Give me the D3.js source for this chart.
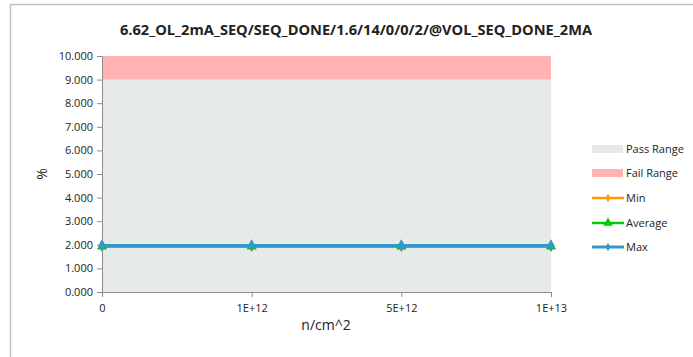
<!DOCTYPE html>
<html>
<head>
<meta charset="utf-8">
<script src="https://cdn.jsdelivr.net/npm/d3@7"></script>
<style>
  body { margin: 0; background: #fff; }
  text { font-family: "Open Sans", "Liberation Sans", sans-serif; fill: #222; }
</style>
</head>
<body>
<svg id="chart" width="693" height="357"></svg>
<script>
const title = "6.62_OL_2mA_SEQ/SEQ_DONE/1.6/14/0/0/2/@VOL_SEQ_DONE_2MA";
const categories = ["0", "1E+12", "5E+12", "1E+13"];
const minValues = [1.95, 1.95, 1.95, 1.95];
const avgValues = [1.93, 1.93, 1.93, 1.93];
const maxValues = [1.97, 1.97, 1.97, 1.97];
const passRange = [0, 9];
const failRange = [9, 10];
const yTicks = [0, 1, 2, 3, 4, 5, 6, 7, 8, 9, 10];

const svg = d3.select("#chart");
const margin = { top: 56, right: 142, bottom: 65, left: 102 };
const width = +svg.attr("width");
const height = +svg.attr("height");

// outer frame
svg.append("path")
  .attr("d", `M10.5,357 L10.5,4.5 L693,4.5`)
  .attr("fill", "none")
  .attr("stroke", "#c0c0c0")
  .attr("stroke-width", 1.5);

const x = d3.scalePoint()
  .domain(categories)
  .range([margin.left, width - margin.right]);

const y = d3.scaleLinear()
  .domain([0, 10])
  .range([height - margin.bottom, margin.top]);

// ranges
svg.append("rect")
  .attr("x", margin.left).attr("width", x.range()[1] - margin.left)
  .attr("y", y(passRange[1])).attr("height", y(passRange[0]) - y(passRange[1]))
  .attr("fill", "#e6ebea");
svg.append("rect")
  .attr("x", margin.left).attr("width", x.range()[1] - margin.left)
  .attr("y", y(failRange[1])).attr("height", y(failRange[0]) - y(failRange[1]))
  .attr("fill", "#ffb3b3");

// axes
const yAxis = svg.append("g")
  .attr("transform", `translate(${margin.left},0)`)
  .call(d3.axisLeft(y).tickValues(yTicks).tickFormat(d3.format(".3f")).tickSize(5).tickSizeOuter(0));
const xAxis = svg.append("g")
  .attr("transform", `translate(0,${height - margin.bottom})`)
  .call(d3.axisBottom(x).tickSize(5).tickSizeOuter(0));

[yAxis, xAxis].forEach(g => {
  g.selectAll("path, line").attr("stroke", "#8c8c8c");
  g.selectAll("text").attr("font-size", "11px").attr("fill", "#222")
    .style("font-family", "'Open Sans', sans-serif");
});
yAxis.selectAll("text").attr("x", -9);
xAxis.selectAll("text").attr("dy", "1.1em");

// series
const series = [
  { name: "Min", values: minValues, color: "#ff9900", width: 2.5, marker: d3.symbolDiamond },
  { name: "Average", values: avgValues, color: "#00cc00", width: 2.5, marker: d3.symbolTriangle },
  { name: "Max", values: maxValues, color: "#3399cc", width: 3, marker: d3.symbolDiamond }
];

const line = d3.line().x((d, i) => x(categories[i])).y(d => y(d));

series.forEach(s => {
  svg.append("path")
    .datum(s.values)
    .attr("d", line)
    .attr("fill", "none")
    .attr("stroke", s.color)
    .attr("stroke-width", s.width);
  svg.selectAll(null)
    .data(s.values)
    .enter()
    .append("path")
    .attr("d", d3.symbol().type(s.marker).size(45))
    .attr("transform", (d, i) => `translate(${x(categories[i])},${y(d)})`)
    .attr("fill", s.color);
});

// title and labels
svg.append("text")
  .attr("x", 356).attr("y", 35)
  .attr("text-anchor", "middle")
  .attr("font-size", "14.5px")
  .attr("font-weight", "bold")
  .attr("textLength", 472)
  .attr("lengthAdjust", "spacingAndGlyphs")
  .text(title);

svg.append("text")
  .attr("transform", "rotate(-90)")
  .attr("x", -174).attr("y", 47)
  .attr("text-anchor", "middle")
  .attr("font-size", "14px")
  .text("%");

svg.append("text")
  .attr("x", 326).attr("y", 330)
  .attr("text-anchor", "middle")
  .attr("font-size", "14px")
  .text("n/cm^2");

// legend
const legend = svg.append("g").attr("transform", "translate(592,0)");
const boxes = [
  { name: "Pass Range", color: "#e6ebea", y: 149 },
  { name: "Fail Range", color: "#ffb3b3", y: 173 }
];
boxes.forEach(b => {
  legend.append("rect").attr("x", 0).attr("y", b.y - 4).attr("width", 31).attr("height", 8).attr("fill", b.color);
  legend.append("text").attr("x", 34).attr("y", b.y + 4).attr("font-size", "11px").text(b.name);
});
const lineRows = [198, 223, 247];
series.forEach((s, i) => {
  const ly = lineRows[i];
  legend.append("line").attr("x1", 0).attr("x2", 32).attr("y1", ly).attr("y2", ly)
    .attr("stroke", s.color).attr("stroke-width", s.width);
  legend.append("path")
    .attr("d", d3.symbol().type(s.marker).size(i === 1 ? 40 : 20))
    .attr("transform", `translate(16,${ly})`)
    .attr("fill", s.color);
  legend.append("text").attr("x", 34).attr("y", ly + 4).attr("font-size", "11px").text(s.name);
});
</script>
</body>
</html>
